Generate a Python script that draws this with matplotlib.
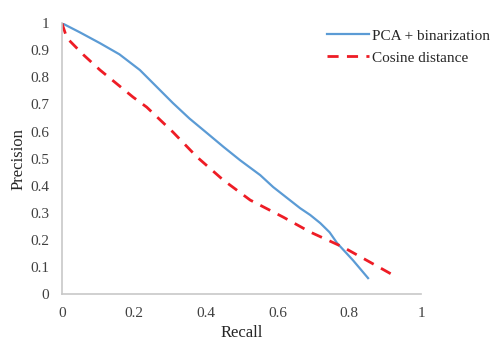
import matplotlib.pyplot as plt

plt.rcParams['font.family'] = ['Liberation Serif', 'DejaVu Serif']

# PCA + binarization
recall_pca = [0.0, 0.05, 0.106, 0.16, 0.217, 0.26, 0.309, 0.355, 0.404, 0.45, 0.496,
              0.552, 0.588, 0.663, 0.691, 0.719, 0.745, 0.766, 0.81, 0.852]
prec_pca = [1.0, 0.966, 0.926, 0.885, 0.827, 0.77, 0.705, 0.648, 0.594, 0.543, 0.494,
            0.439, 0.395, 0.317, 0.292, 0.262, 0.228, 0.188, 0.125, 0.059]

# Cosine distance
recall_cos = [0.0, 0.014, 0.06, 0.106, 0.198, 0.236, 0.309, 0.376, 0.449, 0.524,
              0.616, 0.691, 0.783, 0.922]
prec_cos = [1.0, 0.945, 0.883, 0.827, 0.727, 0.69, 0.598, 0.506, 0.421, 0.347,
            0.284, 0.229, 0.173, 0.07]

xticks = [0, 0.2, 0.4, 0.6, 0.8, 1]
yticks = [0, 0.1, 0.2, 0.3, 0.4, 0.5, 0.6, 0.7, 0.8, 0.9, 1]

fig = plt.figure(figsize=(4.95, 3.4), dpi=100)
ax = fig.add_axes([0.125, 0.135, 0.726, 0.797])

ax.plot(recall_pca, prec_pca, color='#5b9bd5', lw=1.6, label='PCA + binarization')
ax.plot(recall_cos, prec_cos, color='#ee1c25', lw=2.0, dashes=(4, 3),
        label='Cosine distance')

ax.set_xlim(0, 1)
ax.set_ylim(0, 1)
ax.set_xticks(xticks)
ax.set_xticklabels([f'{t:g}' for t in xticks])
ax.set_yticks(yticks)
ax.set_yticklabels([f'{t:g}' for t in yticks])
ax.tick_params(axis='x', length=0, labelsize=11, colors='#404040', pad=9)
ax.tick_params(axis='y', length=0, labelsize=11, colors='#404040', pad=9)
for s in ['top', 'right']:
    ax.spines[s].set_visible(False)
for s in ['left', 'bottom']:
    ax.spines[s].set_color('#c8c8c8')
    ax.spines[s].set_linewidth(1.2)

ax.set_xlabel('Recall', fontsize=12, color='#262626', labelpad=4)
ax.set_ylabel('Precision', fontsize=12, color='#262626', labelpad=3)

fig.legend(loc='upper left', bbox_to_anchor=(0.632, 0.955), frameon=False,
           fontsize=11, handlelength=2.75, handletextpad=0.25, labelspacing=0.55,
           labelcolor='#262626')

fig.savefig('out.png', dpi=100)
